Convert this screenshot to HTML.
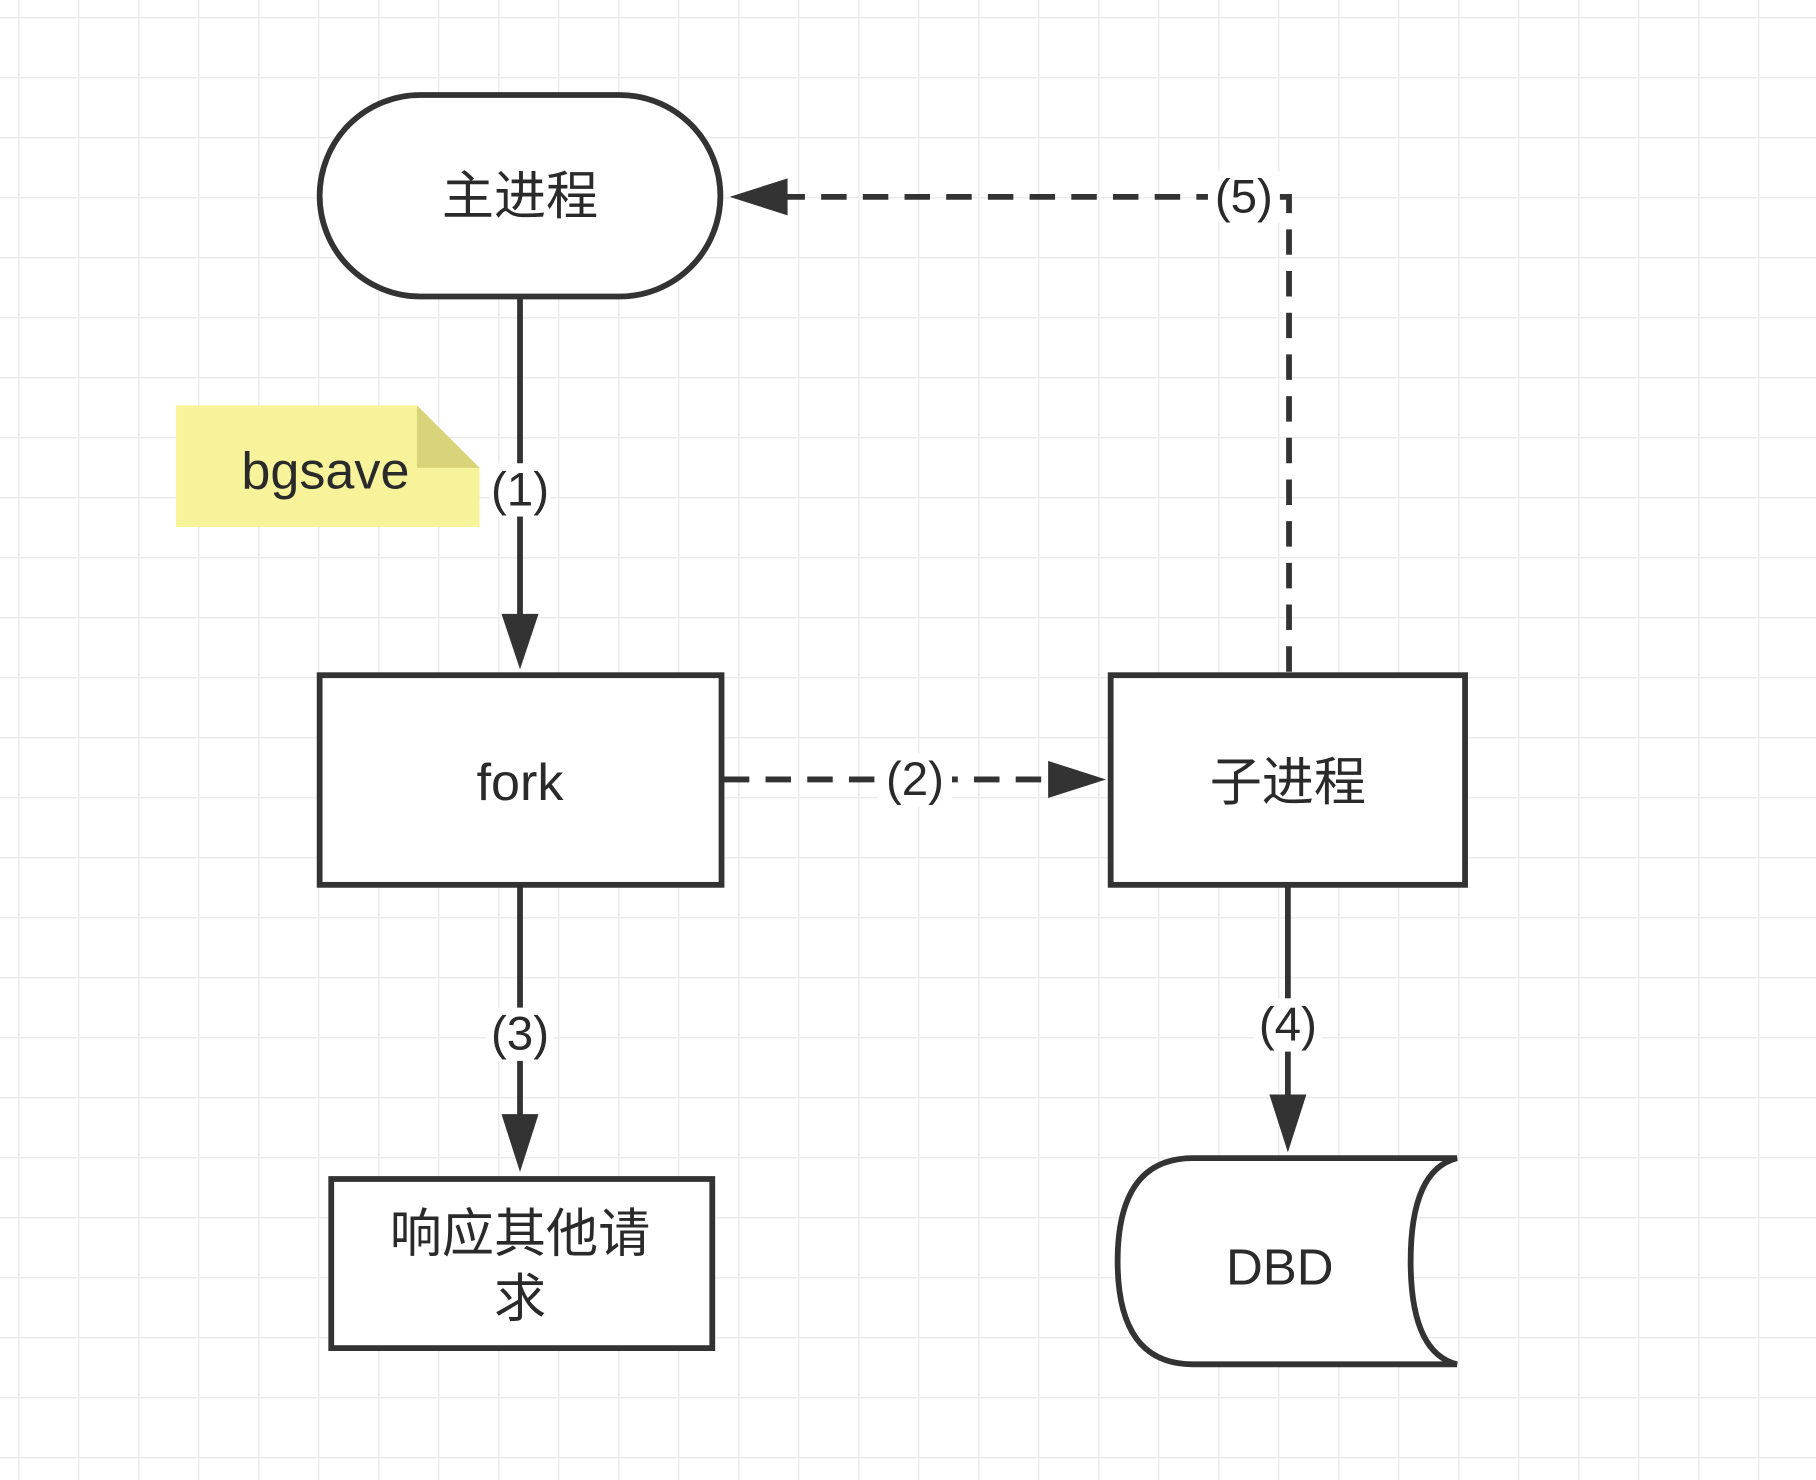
<!DOCTYPE html>
<html><head><meta charset="utf-8"><style>
html,body{margin:0;padding:0;background:#fff;}
svg{display:block}
text{font-family:"Liberation Sans","Noto Sans CJK SC",sans-serif;fill:#2a2a2a;text-anchor:middle;dominant-baseline:central;}
</style></head><body>
<svg width="1816" height="1480" viewBox="0 0 1816 1480" xmlns="http://www.w3.org/2000/svg">
<defs>
<pattern id="g" x="18" y="17" width="60" height="60" patternUnits="userSpaceOnUse">
<path d="M0 0H60M0 0V60" stroke="#ececec" stroke-width="3" fill="none"/>
</pattern>
</defs>
<rect width="1816" height="1480" fill="#fff"/>
<rect width="1816" height="1480" fill="url(#g)"/>
<g transform="scale(1.15816)" stroke="#333" stroke-width="5" fill="none">
<rect x="276" y="82" width="346" height="174" rx="87" fill="#fff"/>
<line x1="449" y1="258" x2="449" y2="540"/>
<path d="M433 530 L465 530 L449 578 Z" fill="#333" stroke="none"/>
<path d="M152 350 H360 L414 404 V455 H152 Z" fill="#f7f39a" stroke="none"/>
<path d="M360 350 L360 404 L414 404 Z" fill="#d9d47a" stroke="none"/>
<rect x="276" y="583" width="347" height="181" fill="#fff"/>
<line x1="625" y1="673" x2="912" y2="673" stroke-dasharray="22 14"/>
<path d="M905 657 L905 689 L955 673 Z" fill="#333" stroke="none"/>
<rect x="959" y="583" width="306" height="181" fill="#fff"/>
<line x1="449" y1="766" x2="449" y2="970"/>
<path d="M433 962 L465 962 L449 1012 Z" fill="#333" stroke="none"/>
<rect x="286" y="1018" width="329" height="146" fill="#fff"/>
<line x1="1112" y1="766" x2="1112" y2="955"/>
<path d="M1096 945 L1128 945 L1112 995 Z" fill="#333" stroke="none"/>
<path d="M1030 1000 H1258 Q1218 1010 1218 1089 Q1218 1168 1258 1178 H1030 Q965 1178 965 1089 Q965 1000 1030 1000 Z" fill="#fff"/>
<path d="M1113 580 V170 H672" stroke-dasharray="22 14"/>
<path d="M680 154 L680 186 L630 170 Z" fill="#333" stroke="none"/>
</g>
<g transform="scale(1.15816)">
<rect x="423" y="400" width="52" height="46" fill="#fff"/>
<text x="449" y="423" font-size="41">(1)</text>
<rect x="758" y="650" width="64" height="46" fill="#fff"/>
<text x="790" y="673" font-size="41">(2)</text>
<rect x="420" y="870" width="58" height="46" fill="#fff"/>
<text x="449" y="893" font-size="41">(3)</text>
<rect x="1083" y="862" width="58" height="46" fill="#fff"/>
<text x="1112" y="885" font-size="41">(4)</text>
<rect x="1043" y="148" width="62" height="44" fill="#fff"/>
<text x="1074" y="170" font-size="41">(5)</text>
<text x="449" y="170" font-size="45">主进程</text>
<text x="281" y="407" font-size="45">bgsave</text>
<text x="449" y="676" font-size="45">fork</text>
<text x="1112" y="676" font-size="45">子进程</text>
<text x="449" y="1066" font-size="45">响应其他请</text>
<text x="449" y="1122" font-size="45">求</text>
<text x="1105" y="1094" font-size="44">DBD</text>
</g>
</svg>
</body></html>
